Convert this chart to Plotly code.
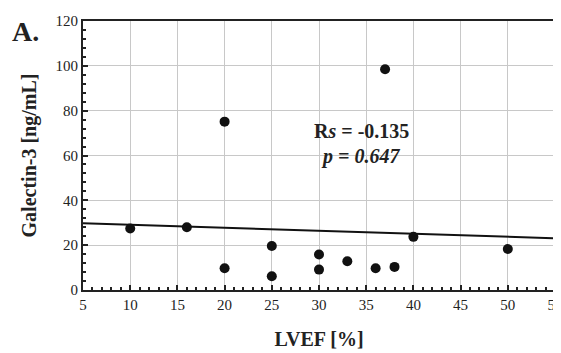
import plotly.graph_objects as go

lvef = [10, 16, 20, 20, 25, 25, 30, 30, 33, 36, 37, 38, 40, 50]
galectin = [27.4, 28.0, 9.7, 75.1, 19.6, 6.1, 15.8, 9.1, 12.8, 9.7, 98.5, 10.3, 23.7, 18.3]

fit_x = [5, 55]
fit_y = [29.8, 23.1]

x_ticks = [5, 10, 15, 20, 25, 30, 35, 40, 45, 50, 55]
y_ticks = [0, 20, 40, 60, 80, 100, 120]

SERIF = "Liberation Serif, Times New Roman, serif"

fig = go.Figure()
fig.add_trace(go.Scatter(x=fit_x, y=fit_y, mode="lines",
                         line=dict(color="#111111", width=2), showlegend=False))
fig.add_trace(go.Scatter(x=lvef, y=galectin, mode="markers",
                         marker=dict(color="#111111", size=10), showlegend=False))

axis_common = dict(
    showline=True, linecolor="#222222", linewidth=2, mirror=True,
    showgrid=True, gridcolor="#c8c8c8", gridwidth=1,
    ticks="inside", ticklen=5, tickwidth=1.5, tickcolor="#222222",
    zeroline=False, automargin=False, ticklabeloverflow="allow",
    tickfont=dict(family=SERIF, size=15, color="#222222"),
)

fig.update_xaxes(range=[5, 55], tickvals=x_ticks, ticktext=[str(v) for v in x_ticks],
                 minor=dict(dtick=1, ticks="inside", ticklen=3, tickcolor="#222222", showgrid=False),
                 title=dict(text="<b>LVEF [%]</b>", font=dict(family=SERIF, size=20, color="#222222"),
                            standoff=20),
                 **axis_common)
fig.update_yaxes(range=[0, 120], tickvals=y_ticks, ticktext=[str(v) for v in y_ticks],
                 minor=dict(dtick=4, ticks="inside", ticklen=3, tickcolor="#222222", showgrid=False),
                 title=dict(text="<b>Galectin-3 [ng/mL]</b>", font=dict(family=SERIF, size=20, color="#222222"),
                            standoff=14),
                 **axis_common)

fig.add_annotation(x=0.59, y=0.592, xref="paper", yref="paper", showarrow=False,
                   text="<b>R<i>s</i> = -0.135</b>",
                   font=dict(family=SERIF, size=20, color="#222222"))
fig.add_annotation(x=0.587, y=0.497, xref="paper", yref="paper", showarrow=False,
                   text="<b><i>p = 0.647</i></b>",
                   font=dict(family=SERIF, size=20, color="#222222"))
fig.add_annotation(x=0, y=1, xref="paper", yref="paper", xanchor="left", yanchor="top",
                   xshift=-73, yshift=7, showarrow=False,
                   text="<b>A.</b>",
                   font=dict(family=SERIF, size=28, color="#222222"))

fig.update_layout(
    width=553, height=345,
    margin=dict(l=75, r=6, t=13, b=63),
    paper_bgcolor="white", plot_bgcolor="white",
)

fig.write_html("out.html")
